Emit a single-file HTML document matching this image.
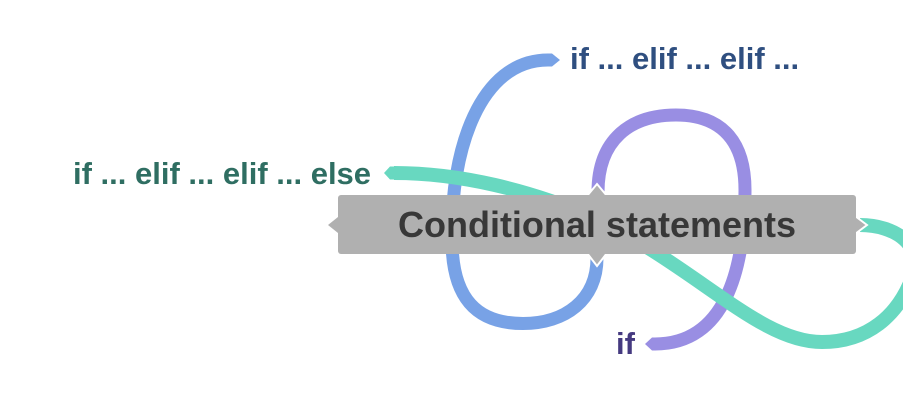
<!DOCTYPE html>
<html>
<head>
<meta charset="utf-8">
<style>
html,body{margin:0;padding:0;background:#fff;width:910px;height:409px;overflow:hidden}
svg{display:block}
text{font-family:"Liberation Sans",sans-serif;font-weight:bold}
</style>
</head>
<body>
<svg width="910" height="409" viewBox="0 0 910 409" xmlns="http://www.w3.org/2000/svg">
<defs><clipPath id="c"><rect x="0" y="0" width="903" height="409"/></clipPath></defs>
<g clip-path="url(#c)" fill="none" stroke-linecap="butt">
<path d="M597,258 C597,300 565,323.500 523,323.500 C478,323.500 452,300 452,240 C450,150 480,60 548,60" stroke="#78a2e6" stroke-width="13"/>
<polygon points="547,53.500 552,53.500 560,60 552,66.500 547,66.500" fill="#78a2e6"/>
<path d="M598,192 C598,140 630,115 676,115 C725,115 745,145 745,190 C745,270 725,344 655,344" stroke="#998ee3" stroke-width="13"/>
<polygon points="656,337.500 652,337.500 645,344 652,350.500 656,350.500" fill="#998ee3"/>
<path d="M394,173 C460,173 530,190 595,218 C700,270 760,342 822,342 C868,342 898,315 912,278 C925,245 895,225 860,225" stroke="#68d8c0" stroke-width="14"/>
<polygon points="395,166.500 390,166.500 384,173 390,179.500 395,179.500" fill="#68d8c0"/>
</g>
<polygon points="597,184 607,196 587,196" fill="#b0b0b0" stroke="#fff" stroke-width="2"/>
<polygon points="597,266 607,253 587,253" fill="#b0b0b0" stroke="#fff" stroke-width="2"/>
<polygon points="867,225 855,216 855,234" fill="#b0b0b0" stroke="#fff" stroke-width="2"/>
<polygon points="328,225 338,217 338,233" fill="#b0b0b0"/>
<rect x="338" y="195" width="518" height="59" rx="3" ry="3" fill="#b0b0b0"/>
<text x="597" y="237" font-size="36" text-anchor="middle" fill="#383838">Conditional statements</text>
<text x="570" y="69" font-size="31" fill="#2f4f80">if ... elif ... elif ...</text>
<text x="73" y="184" font-size="31" fill="#2f6e62">if ... elif ... elif ... else</text>
<text x="616" y="354" font-size="31" fill="#453a80">if</text>
</svg>
</body>
</html>
